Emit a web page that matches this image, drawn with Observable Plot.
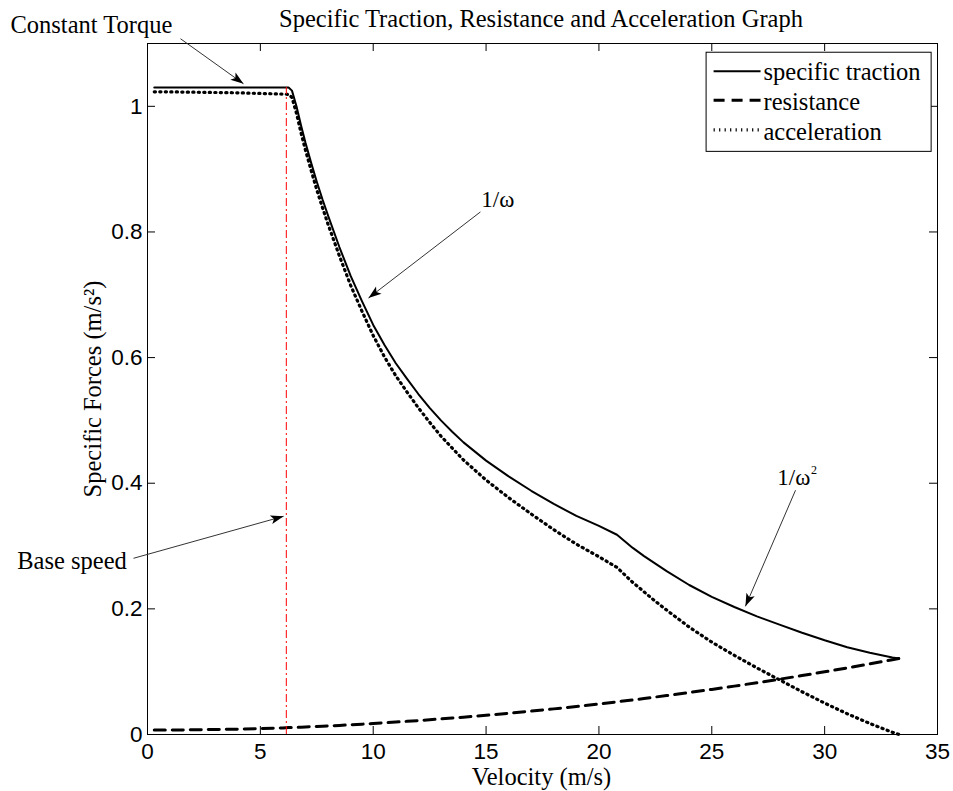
<!DOCTYPE html>
<html>
<head>
<meta charset="utf-8">
<script src="https://cdn.jsdelivr.net/npm/d3@7"></script>
<script src="https://cdn.jsdelivr.net/npm/@observablehq/plot@0.6"></script>
<style>body{margin:0;background:#fff}</style>
</head>
<body>
<div id="chart"></div>
<script>
// ---- data ----
const velocity     = [0.3, 1, 2, 3, 4, 5, 6, 6.25, 6.4, 6.6, 6.8, 7, 7.25, 7.5, 7.75, 8, 8.5, 9, 9.5, 10, 10.5, 11, 11.5, 12, 12.5, 13, 13.5, 14, 15, 16, 17, 18, 19, 20, 20.8, 21.5, 22, 22.5, 23, 24, 25, 26, 27, 28, 29, 30, 31, 32, 33, 33.3];
const traction     = [1.03, 1.03, 1.03, 1.03, 1.03, 1.03, 1.03, 1.03, 1.025, 1.0, 0.97, 0.942, 0.91, 0.88, 0.852, 0.826, 0.776, 0.73, 0.69, 0.652, 0.62, 0.591, 0.566, 0.542, 0.52, 0.5, 0.482, 0.465, 0.436, 0.411, 0.388, 0.367, 0.348, 0.332, 0.318, 0.297, 0.284, 0.272, 0.26, 0.238, 0.219, 0.203, 0.188, 0.175, 0.162, 0.15, 0.139, 0.13, 0.1225, 0.121];
const resistance   = [0.007, 0.007, 0.0075, 0.008, 0.0085, 0.0095, 0.0105, 0.011, 0.011, 0.0113, 0.0115, 0.012, 0.0124, 0.0128, 0.0132, 0.0136, 0.0145, 0.0154, 0.0164, 0.0175, 0.0186, 0.0198, 0.021, 0.0222, 0.0235, 0.0248, 0.0262, 0.0276, 0.0306, 0.0338, 0.0372, 0.0408, 0.0446, 0.0486, 0.052, 0.055, 0.0572, 0.0596, 0.062, 0.0668, 0.0718, 0.077, 0.0824, 0.088, 0.0938, 0.0998, 0.106, 0.1124, 0.119, 0.121];
const acceleration = [1.023, 1.023, 1.0225, 1.022, 1.0215, 1.0205, 1.0195, 1.019, 1.014, 0.989, 0.958, 0.93, 0.898, 0.867, 0.839, 0.812, 0.762, 0.715, 0.674, 0.635, 0.601, 0.571, 0.545, 0.52, 0.497, 0.475, 0.456, 0.437, 0.405, 0.377, 0.351, 0.326, 0.303, 0.283, 0.266, 0.242, 0.227, 0.212, 0.198, 0.171, 0.147, 0.126, 0.106, 0.087, 0.068, 0.05, 0.033, 0.0176, 0.0035, 0.0];
const seriesNames  = ["specific traction", "resistance", "acceleration"];
const xTicks       = [0, 5, 10, 15, 20, 25, 30, 35];
const yTicks       = [0, 0.2, 0.4, 0.6, 0.8, 1];
const yTickLabels  = ["0", "0.2", "0.4", "0.6", "0.8", "1"];
const baseSpeed    = 6.15;
const baseSpeedTop = 1.03;
const titleText    = "Specific Traction, Resistance and Acceleration Graph";
const xLabel       = "Velocity (m/s)";
const yLabel       = "Specific Forces (m/s²)";

// ---- layout ----
const W = 953, H = 791, ML = 147, MR = 16, MT = 43, MB = 57;
const frameW = W - ML - MR, frameH = H - MT - MB;
const X = d3.scaleLinear([0, 35], [ML, W - MR]);
const Y = d3.scaleLinear([0, 1.1], [H - MB, MT]);
const serif = "Liberation Serif, Times New Roman, serif";
const sans = "Liberation Sans, Arial, sans-serif";

// annotation placement (data units)
const bigNotes = [
  {text: "Constant Torque", x: -6.07, y: 1.1167},
  {text: "Base speed", x: -5.77, y: 0.2641}
];
const omegaNotes = [
  {text: "1/ω", x: 14.79, y: 0.8403},
  {text: "1/ω", x: 27.9, y: 0.3968}
];
const supNotes = [
  {text: "2", x: 29.4, y: 0.4143}
];
const arrows = [
  {x1: 1.462, y1: 1.1076, x2: 4.253, y2: 1.0359},
  {x1: 14.75, y1: 0.8319, x2: 9.79, y2: 0.6948},
  {x1: 28.71, y1: 0.3888, x2: 26.49, y2: 0.204},
  {x1: -0.62, y1: 0.2805, x2: 6.03, y2: 0.3474}
];
const legendBox = {x1: 24.77, x2: 34.74, y1: 0.9275, y2: 1.0853};
const legendSample = {x1: 25.08, x2: 27.16, textX: 27.29};
const legendLineY = [1.0558, 1.0096, 0.9625];
const legendTextY = [1.0422, 0.9944, 0.9466];

const styles = {
  "specific traction": {stroke: "black", strokeWidth: 2},
  "resistance": {stroke: "black", strokeWidth: 3, strokeDasharray: "11,7"},
  "acceleration": {stroke: "black", strokeWidth: 3.2, strokeDasharray: "1.2,4.3"}
};
const keys = {"specific traction": "traction", "resistance": "resistance", "acceleration": "acceleration"};

const rows = velocity.map((v, i) => ({v, traction: traction[i], resistance: resistance[i], acceleration: acceleration[i]}));
const legendRows = seriesNames.map((name, i) => ({name, ly: legendLineY[i], ty: legendTextY[i]}));

const arrowHead = {
  draw(context) {
    context.moveTo(0, 0);
    context.lineTo(-4.5, 13);
    context.lineTo(0, 10);
    context.lineTo(4.5, 13);
    context.closePath();
  }
};
const angle = (d) => {
  const dx = X(d.x2) - X(d.x1), dy = Y(d.y2) - Y(d.y1);
  return Math.atan2(dx, -dy) * 180 / Math.PI;
};

const chart = Plot.plot({
  width: W, height: H,
  marginLeft: ML, marginRight: MR, marginTop: MT, marginBottom: MB,
  x: {domain: [0, 35], label: null},
  y: {domain: [0, 1.1], label: null},
  style: {background: "white", color: "black", fontFamily: sans, overflow: "visible"},
  marks: [
    ...seriesNames.map((name) => Plot.line(rows, {x: "v", y: keys[name], ...styles[name]})),
    Plot.ruleX([baseSpeed], {y1: 0, y2: baseSpeedTop, stroke: "red", strokeWidth: 1, strokeDasharray: "8,3,2,3"}),
    Plot.tickX(xTicks, {x: (d) => d, insetTop: frameH - 8, stroke: "black"}),
    Plot.tickX(xTicks, {x: (d) => d, insetBottom: frameH - 8, stroke: "black"}),
    Plot.tickY(yTicks, {y: (d) => d, insetRight: frameW - 8, stroke: "black"}),
    Plot.tickY(yTicks, {y: (d) => d, insetLeft: frameW - 8, stroke: "black"}),
    Plot.frame({stroke: "black", strokeWidth: 1}),
    Plot.axisX(xTicks, {tickSize: 0, tickPadding: 9, fontSize: 22.5, fontFamily: sans, label: null, tickFormat: (d) => String(d)}),
    Plot.axisY(yTicks, {tickSize: 0, tickPadding: 5, fontSize: 22.5, fontFamily: sans, label: null, tickFormat: (d) => yTickLabels[yTicks.indexOf(d)]}),
    Plot.text([titleText], {frameAnchor: "top", textAnchor: "middle", lineAnchor: "bottom", dy: 26.7 - MT, dx: -1.5, fontFamily: serif, fontSize: 24.5}),
    Plot.text([xLabel], {frameAnchor: "bottom", textAnchor: "middle", lineAnchor: "bottom", dy: 50, dx: -1, fontFamily: serif, fontSize: 24.5}),
    Plot.text([yLabel], {frameAnchor: "left", textAnchor: "middle", lineAnchor: "bottom", rotate: -90, dx: -47, fontFamily: serif, fontSize: 24.5}),
    // legend
    Plot.rect([legendBox], {x1: "x1", x2: "x2", y1: "y1", y2: "y2", fill: "white", stroke: "black", strokeWidth: 1}),
    ...legendRows.map((r) => Plot.link([r], {x1: legendSample.x1, x2: legendSample.x2, y1: "ly", y2: "ly", ...styles[r.name]})),
    Plot.text(legendRows, {x: legendSample.textX, y: "ty", text: "name", textAnchor: "start", lineAnchor: "bottom", fontFamily: serif, fontSize: 24.5}),
    // annotations
    Plot.link(arrows, {x1: "x1", y1: "y1", x2: "x2", y2: "y2", stroke: "#333", strokeWidth: 1}),
    Plot.vector(arrows, {x: "x2", y: "y2", rotate: angle, anchor: "start", length: 13, shape: arrowHead, fill: "black", stroke: "none"}),
    Plot.text(bigNotes, {x: "x", y: "y", text: "text", textAnchor: "start", lineAnchor: "bottom", fontFamily: serif, fontSize: 24.5}),
    Plot.text(omegaNotes, {x: "x", y: "y", text: "text", textAnchor: "start", lineAnchor: "bottom", fontFamily: serif, fontSize: 23}),
    Plot.text(supNotes, {x: "x", y: "y", text: "text", textAnchor: "start", lineAnchor: "bottom", fontFamily: serif, fontSize: 12})
  ]
});
document.getElementById("chart").appendChild(chart);
</script>
</body>
</html>
